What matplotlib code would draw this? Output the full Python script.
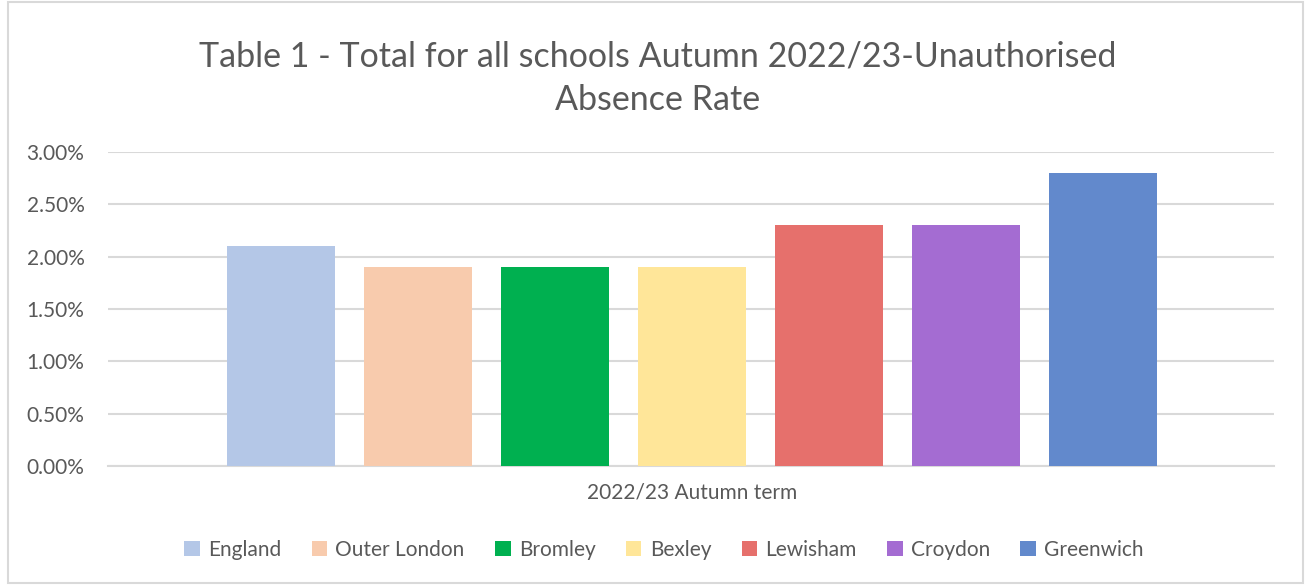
import matplotlib.pyplot as plt
from matplotlib.patches import Rectangle
from matplotlib.ticker import FuncFormatter

areas = ['England', 'Outer London', 'Bromley', 'Bexley', 'Lewisham', 'Croydon', 'Greenwich']
rates = [2.1, 1.9, 1.9, 1.9, 2.3, 2.3, 2.8]
colors = ['#b4c7e7', '#f8cbad', '#00b050', '#ffe699', '#e6706c', '#a46cd2', '#6289cc']
category = '2022/23 Autumn term'
yticks = [0, 0.5, 1.0, 1.5, 2.0, 2.5, 3.0]

plt.rcParams['font.family'] = ['Lato', 'DejaVu Sans']

fig = plt.figure(figsize=(13.08, 5.85), dpi=100)
ax = fig.add_axes([108 / 1308, 119 / 585, 1166 / 1308, 314 / 585])

# chart border
fig.patches.append(Rectangle((8 / 1308, 2 / 585), 1295 / 1308, 581 / 585,
                             transform=fig.transFigure, fill=False,
                             edgecolor='#d9d9d9', linewidth=1.5))

for i, (name, val, col) in enumerate(zip(areas, rates, colors)):
    ax.bar(i, val, width=0.785, color=col, label=name, zorder=3)

ax.set_xlim(-1.265, 7.25)
ax.set_ylim(0, 3.0)
ax.set_yticks(yticks)
ax.yaxis.set_major_formatter(FuncFormatter(lambda v, p: f'{v:.2f}%'))
ax.set_xticks([3])
ax.set_xticklabels([category])
ax.tick_params(axis='both', length=0, labelsize=15, labelcolor='#595959')
ax.tick_params(axis='y', pad=17)
ax.tick_params(axis='x', pad=12)
ax.grid(axis='y', color='#d9d9d9', linewidth=1.5, zorder=0)
for s in ['top', 'right', 'left']:
    ax.spines[s].set_visible(False)
ax.spines['bottom'].set_color('#d9d9d9')
ax.spines['bottom'].set_linewidth(1.5)

fig.text(0.503, 0.866, 'Table 1 - Total for all schools Autumn 2022/23-Unauthorised\nAbsence Rate',
         ha='center', va='center', fontsize=24.5, color='#595959', linespacing=1.45)

ax.legend(loc='center', bbox_to_anchor=(664 / 1308, 35 / 585), bbox_transform=fig.transFigure,
          ncol=7, frameon=False, fontsize=15, labelcolor='#595959',
          handlelength=0.75, handleheight=0.75, handletextpad=0.4, columnspacing=1.45)

fig.savefig('out.png', dpi=100)
